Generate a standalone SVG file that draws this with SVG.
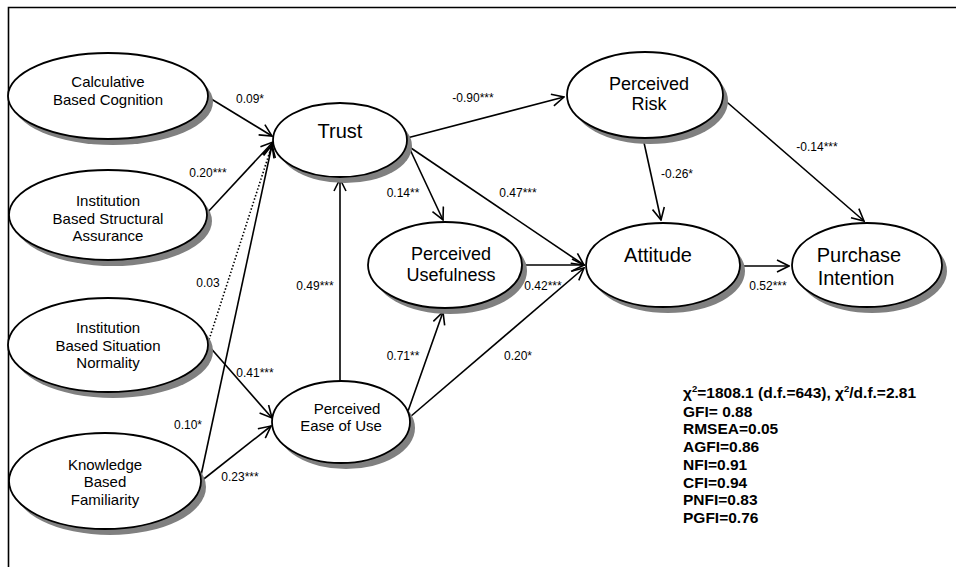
<svg xmlns="http://www.w3.org/2000/svg" width="956" height="567" viewBox="0 0 956 567">
<style>
.sh{fill:#808080;stroke:none}
.el{fill:#fff;stroke:#000;stroke-width:1.8}
.t{font-family:"Liberation Sans",Arial,sans-serif;fill:#000;text-anchor:middle}
.s15{font-size:15px}
.s18{font-size:18px}
.s20{font-size:20px}
.lb{font-family:"Liberation Sans",Arial,sans-serif;font-size:12px;fill:#000;text-anchor:middle}
.st{font-family:"Liberation Sans",Arial,sans-serif;font-size:15.5px;font-weight:bold;fill:#000}
.c{stroke:#000;stroke-width:1.6;fill:none;marker-end:url(#ah)}
.d{stroke:#000;stroke-width:1.6;fill:none;stroke-dasharray:1.5 2;marker-end:url(#ah)}
</style>
<defs>
<marker id="ah" viewBox="0 0 14 14" refX="13" refY="7" markerWidth="14" markerHeight="14" markerUnits="userSpaceOnUse" orient="auto">
<path d="M1,1 L13,7 L1,13" fill="none" stroke="#000" stroke-width="1.6"/>
</marker>
</defs>
<rect width="956" height="567" fill="#fff"/>
<path d="M8.5,567 V7.5 H956" fill="none" stroke="#000" stroke-width="1.6"/>

<g id="connectors">
<line class="c" x1="208" y1="97" x2="272" y2="136"/>
<line class="c" x1="207" y1="213" x2="273" y2="142"/>
<line class="d" x1="208" y1="343" x2="272" y2="145"/>
<line class="c" x1="200" y1="480" x2="272" y2="145"/>
<line class="c" x1="208" y1="345" x2="272" y2="418"/>
<line class="c" x1="200" y1="482" x2="271" y2="426"/>
<line class="c" x1="340" y1="382" x2="340" y2="179"/>
<line class="c" x1="407" y1="138" x2="564" y2="97"/>
<line class="c" x1="407" y1="143" x2="443" y2="220"/>
<line class="c" x1="408" y1="146" x2="584" y2="265"/>
<line class="c" x1="522" y1="265" x2="584" y2="265"/>
<line class="c" x1="410" y1="417" x2="584" y2="268"/>
<line class="c" x1="407" y1="414" x2="443" y2="312"/>
<line class="c" x1="643" y1="138" x2="661" y2="220"/>
<line class="c" x1="721" y1="97" x2="864" y2="221"/>
<line class="c" x1="740" y1="266" x2="789" y2="266"/>
</g>

<g id="labels">
<text class="lb" x="250" y="103">0.09*</text>
<text class="lb" x="208" y="177">0.20***</text>
<text class="lb" x="208" y="287">0.03</text>
<text class="lb" x="188" y="429">0.10*</text>
<text class="lb" x="255" y="377">0.41***</text>
<text class="lb" x="240" y="481">0.23***</text>
<text class="lb" x="315" y="290">0.49***</text>
<text class="lb" x="473" y="102">-0.90***</text>
<text class="lb" x="403" y="197">0.14**</text>
<text class="lb" x="518" y="197">0.47***</text>
<text class="lb" x="543" y="290">0.42***</text>
<text class="lb" x="518" y="360">0.20*</text>
<text class="lb" x="403" y="360">0.71**</text>
<text class="lb" x="677" y="178">-0.26*</text>
<text class="lb" x="817" y="151">-0.14***</text>
<text class="lb" x="768" y="290">0.52***</text>
</g>

<g id="n-cbc">
<ellipse class="sh" cx="113" cy="102" rx="100" ry="43"/>
<ellipse class="el" cx="108" cy="96" rx="100" ry="43"/>
<text class="t s15" x="108" y="87">Calculative</text>
<text class="t s15" x="108" y="105">Based Cognition</text>
</g>
<g id="n-ibsa">
<ellipse class="sh" cx="113" cy="221" rx="99" ry="45"/>
<ellipse class="el" cx="108" cy="215" rx="99" ry="45"/>
<text class="t s15" x="108" y="206">Institution</text>
<text class="t s15" x="108" y="224">Based Structural</text>
<text class="t s15" x="108" y="241">Assurance</text>
</g>
<g id="n-ibsn">
<ellipse class="sh" cx="113" cy="351" rx="100" ry="47"/>
<ellipse class="el" cx="108" cy="345" rx="100" ry="47"/>
<text class="t s15" x="108" y="333">Institution</text>
<text class="t s15" x="108" y="351">Based Situation</text>
<text class="t s15" x="108" y="368">Normality</text>
</g>
<g id="n-kbf">
<ellipse class="sh" cx="110" cy="487" rx="96" ry="48"/>
<ellipse class="el" cx="105" cy="481" rx="96" ry="48"/>
<text class="t s15" x="105" y="470">Knowledge</text>
<text class="t s15" x="105" y="487">Based</text>
<text class="t s15" x="105" y="505">Familiarity</text>
</g>
<g id="n-trust">
<ellipse class="sh" cx="345" cy="146" rx="67" ry="37"/>
<ellipse class="el" cx="340" cy="140" rx="67" ry="37"/>
<text class="t s20" x="340" y="138">Trust</text>
</g>
<g id="n-peou">
<ellipse class="sh" cx="346" cy="428" rx="69" ry="41"/>
<ellipse class="el" cx="341" cy="422" rx="69" ry="41"/>
<text class="t s15" x="347" y="414">Perceived</text>
<text class="t s15" x="341" y="431">Ease of Use</text>
</g>
<g id="n-pu">
<ellipse class="sh" cx="450" cy="271" rx="77" ry="43"/>
<ellipse class="el" cx="445" cy="265" rx="77" ry="43"/>
<text class="t s18" x="451" y="260">Perceived</text>
<text class="t s18" x="451" y="281">Usefulness</text>
</g>
<g id="n-pr">
<ellipse class="sh" cx="650" cy="101" rx="78" ry="43"/>
<ellipse class="el" cx="645" cy="95" rx="78" ry="43"/>
<text class="t s18" x="649" y="90">Perceived</text>
<text class="t s18" x="649" y="110">Risk</text>
</g>
<g id="n-att">
<ellipse class="sh" cx="668" cy="271" rx="77" ry="42"/>
<ellipse class="el" cx="663" cy="265" rx="77" ry="42"/>
<text class="t s20" x="658" y="262">Attitude</text>
</g>
<g id="n-pi">
<ellipse class="sh" cx="872" cy="271" rx="75" ry="42"/>
<ellipse class="el" cx="867" cy="265" rx="75" ry="42"/>
<text class="t s20" x="859" y="262">Purchase</text>
<text class="t s20" x="856" y="285">Intention</text>
</g>

<g id="stats">
<text class="st" x="683" y="398">χ<tspan font-size="9.5" dy="-6">2</tspan><tspan dy="6">=1808.1 (d.f.=643), χ</tspan><tspan font-size="9.5" dy="-6">2</tspan><tspan dy="6">/d.f.=2.81</tspan></text>
<text class="st" x="683" y="417">GFI= 0.88</text>
<text class="st" x="683" y="434">RMSEA=0.05</text>
<text class="st" x="683" y="452">AGFI=0.86</text>
<text class="st" x="683" y="470">NFI=0.91</text>
<text class="st" x="683" y="488">CFI=0.94</text>
<text class="st" x="683" y="505">PNFI=0.83</text>
<text class="st" x="683" y="523">PGFI=0.76</text>
</g>
</svg>
